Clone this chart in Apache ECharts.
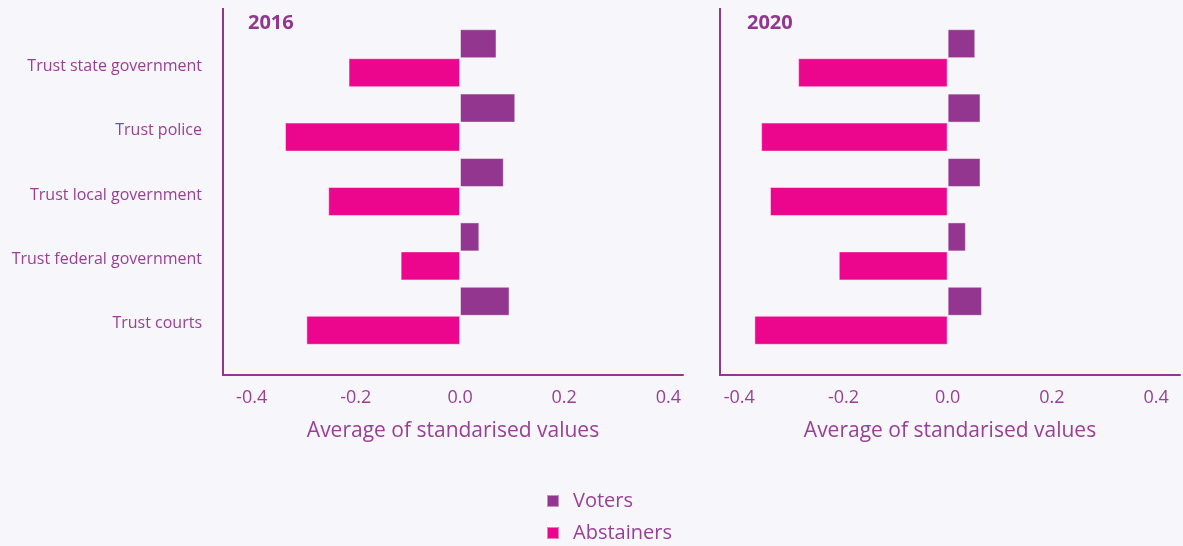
<!DOCTYPE html>
<html>
<head>
<meta charset="utf-8">
<script src="https://cdn.jsdelivr.net/npm/echarts@6/dist/echarts.min.js"></script>
<style>
  html, body { margin: 0; padding: 0; background: #f7f6fb; }
  #chart { width: 1183px; height: 546px; }
</style>
</head>
<body>
<div id="chart"></div>
<script>
const categories = ['Trust state government', 'Trust police', 'Trust local government', 'Trust federal government', 'Trust courts']
const voters2016 = [0.070, 0.106, 0.084, 0.037, 0.095]
const abstainers2016 = [-0.214, -0.336, -0.253, -0.114, -0.295]
const voters2020 = [0.053, 0.063, 0.063, 0.035, 0.066]
const abstainers2020 = [-0.287, -0.358, -0.341, -0.209, -0.371]
const tickValues = [-0.4, -0.2, 0, 0.2, 0.4]

const purple = '#93368f'
const pink = '#ec068d'
const textColor = '#9a3f95'
const font = 'Open Sans'

const myChart = echarts.init(document.getElementById('chart'))

function xAxisFor(idx, min, max) {
  return {
    type: 'value',
    gridIndex: idx,
    min: min,
    max: max,
    offset: 27,
    splitLine: { show: false },
    axisTick: { show: false },
    axisLine: { show: true, lineStyle: { color: purple, width: 2 } },
    axisLabel: {
      customValues: tickValues,
      formatter: v => v.toFixed(1),
      color: textColor,
      fontFamily: font,
      fontSize: 18,
      margin: 14
    },
    name: 'Average of standarised values',
    nameLocation: 'middle',
    nameGap: 46,
    nameTextStyle: { color: textColor, fontFamily: font, fontSize: 21 }
  }
}

function yAxisFor(idx, showLabels) {
  return {
    type: 'category',
    gridIndex: idx,
    data: categories,
    inverse: true,
    axisLine: { show: false },
    axisTick: { show: false },
    axisLabel: {
      show: showLabels,
      color: textColor,
      fontFamily: font,
      fontSize: 16,
      margin: 21,
      verticalAlign: 'top',
      lineHeight: 16
    }
  }
}

function barSeries(name, idx, data, color) {
  return {
    name: name,
    type: 'bar',
    xAxisIndex: idx,
    yAxisIndex: idx,
    barGap: 0,
    barCategoryGap: '10%',
    itemStyle: { color: color, borderColor: 'rgba(255,255,255,0.45)', borderWidth: 1 },
    data: data
  }
}

myChart.setOption({
  backgroundColor: '#f7f6fb',
  animation: false,
  grid: [
    { left: 223, top: 26, width: 460, height: 322 },
    { left: 720, top: 26, width: 460, height: 322 }
  ],
  xAxis: [xAxisFor(0, -0.455, 0.428), xAxisFor(1, -0.437, 0.446)],
  yAxis: [yAxisFor(0, true), yAxisFor(1, false)],
  legend: {
    orient: 'vertical',
    left: 541,
    top: 486,
    height: 60,
    icon: 'rect',
    itemWidth: 12,
    itemHeight: 12,
    itemGap: 12,
    textStyle: { color: textColor, fontFamily: font, fontSize: 20, lineHeight: 20, padding: [0, 0, 0, 9] },
    data: ['Voters', 'Abstainers']
  },
  title: [
    { text: '2016', left: 243, top: 8, textStyle: { color: purple, fontFamily: font, fontSize: 20, fontWeight: 'bold' } },
    { text: '2020', left: 742, top: 8, textStyle: { color: purple, fontFamily: font, fontSize: 20, fontWeight: 'bold' } }
  ],
  graphic: [
    { type: 'line', shape: { x1: 223, y1: 8, x2: 223, y2: 376 }, style: { stroke: purple, lineWidth: 2 } },
    { type: 'line', shape: { x1: 720, y1: 8, x2: 720, y2: 376 }, style: { stroke: purple, lineWidth: 2 } }
  ],
  series: [
    barSeries('Voters', 0, voters2016, purple),
    barSeries('Abstainers', 0, abstainers2016, pink),
    barSeries('Voters', 1, voters2020, purple),
    barSeries('Abstainers', 1, abstainers2020, pink)
  ]
})
window.addEventListener('resize', () => {
  myChart.resize()
})
</script>
</body>
</html>
